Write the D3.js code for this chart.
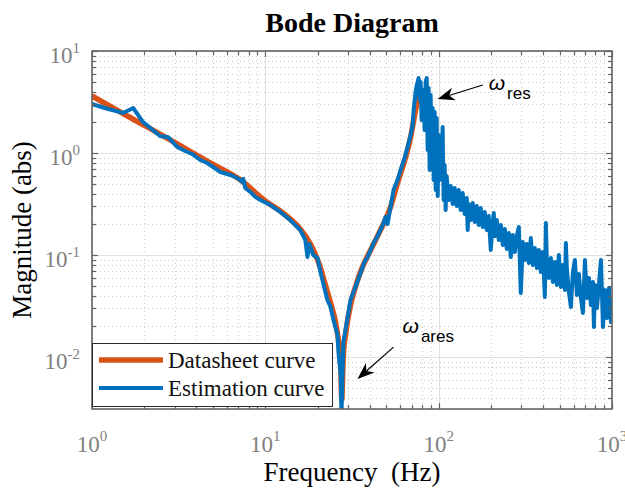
<!DOCTYPE html>
<html>
<head>
<meta charset="utf-8">
<script src="https://cdn.jsdelivr.net/npm/d3@7"></script>
<style>
  body { margin: 0; background: #fff; }
  svg { display: block; }
  .serif { font-family: "Liberation Serif", "Times New Roman", serif; }
  .sans { font-family: "Liberation Sans", Arial, sans-serif; }
</style>
</head>
<body>
<div id="chart"></div>
<script>
const width = 625, height = 490;
const margin = {top: 51, right: 13, bottom: 81, left: 92};

// Datasheet model curve: [Hz, abs]
const datasheet = [
  [1.00,3.62],[1.45,2.53],[2.17,1.73],[3.23,1.18],[4.81,0.80],[7.17,0.546],[10.0,0.338],
  [12.2,0.27],[13.9,0.226],[15.9,0.180],[18.2,0.128],[20.8,0.0746],[22.2,0.0508],[23.8,0.0338],
  [25.4,0.0220],[26.4,0.0147],[27.2,0.0090],[27.6,0.0038],[27.9,0.0060],[28.2,0.0106],[29.0,0.0164],
  [31.0,0.0323],[33.1,0.0486],[35.4,0.0681],[40.5,0.112],[46.2,0.176],[52.8,0.296],[57.9,0.508],
  [65.0,0.955],[68.9,1.43],[73.6,2.64],[77.6,3.8]
];

// Measured (estimation) curve: [Hz, abs]
const estimation = [
  [1.00,3.02],[1.24,2.70],[1.51,2.47],[1.73,2.76],[1.97,2.01],[2.17,1.76],[2.47,1.47],[2.75,1.43],
  [3.10,1.145],[3.45,1.046],[3.78,0.978],[4.21,0.854],[4.62,0.798],[5.00,0.729],[5.50,0.651],
  [6.28,0.609],[6.89,0.569],[7.36,0.520],[7.46,0.556],[7.66,0.454],[8.19,0.415],[8.75,0.371],
  [9.35,0.346],[10.7,0.309],[12.2,0.264],[13.9,0.220],[15.9,0.176],[17.0,0.140],[17.5,0.0955],
  [17.96,0.128],[18.9,0.100],[20.0,0.0935],[20.8,0.0681],[22.2,0.0434],[22.8,0.0362],[23.8,0.0309],
  [24.7,0.0231],[26.1,0.0164],[26.4,0.0112],[27.2,0.00667],[27.5,0.0027],[27.9,0.00746],[28.2,0.0140],
  [29.0,0.0184],[31.0,0.0362],[33.1,0.0486],[35.4,0.0667],[37.3,0.0853],[38.9,0.0955],[40.5,0.112],
  [42.1,0.131],[44.4,0.153],[46.2,0.176],[48.1,0.206],[49.4,0.236],[50.7,0.201],[52.8,0.296],
  [54.9,0.434],[57.9,0.544],[60.3,0.682],[63.6,0.893],[66.2,1.145],[68.9,1.50],[70.8,1.88],
  [71.7,2.64],[73.6,3.96],[74.6,4.54],[76.6,5.43],[77.6,3.31],[78.7,4.97],[79.7,2.11],[80.8,4.15],
  [81.9,3.31],[83.0,1.68],[84.1,4.97],[85.3,5.43],[86.4,1.07],[87.5,4.34],[88.7,0.682],[89.9,3.70],
  [91.1,0.762],[92.3,2.76],[93.6,0.544],[94.8,2.52],[96.1,0.434],[97.4,2.20],[98.7,0.379],[100,1.50],
  [101.3,0.544],[102.7,1.07],[104.0,0.609],[105.4,1.80],[106.8,0.346],[108.3,0.762],[109.7,0.276],
  [111.2,0.595],[114.2,0.346],[117.3,0.475],[120.5,0.316],[123.7,0.454],[127.1,0.302],[130.5,0.434],
  [134.0,0.276],[137.6,0.405],[141.3,0.252],[145.2,0.362],[147.1,0.176],[149.1,0.316],[153.1,0.220],
  [157.2,0.323],[161.5,0.211],[165.9,0.302],[170.3,0.197],[174.9,0.289],[179.6,0.188],[184.5,0.264],
  [189.4,0.176],[194.5,0.241],[199.8,0.112],[205.2,0.211],[208.0,0.258],[210.7,0.153],[216.4,0.220],
  [222.3,0.140],[228.3,0.197],[234.4,0.125],[240.7,0.180],[247.2,0.1145],[253.9,0.164],[260.7,0.0955],
  [267.7,0.157],[274.9,0.107],[282.3,0.153],[290.0,0.188],[297.7,0.0424],[305.8,0.134],[314.0,0.0893],
  [322.5,0.128],[331.2,0.0835],[340.1,0.147],[349.3,0.0798],[358.7,0.117],[368.4,0.0746],[378.3,0.112],
  [388.5,0.0681],[399.0,0.107],[409.8,0.0388],[415.3,0.206],[421.0,0.0853],[432.3,0.0595],[444.0,0.0935],
  [456.0,0.0544],[468.2,0.0853],[480.9,0.0508],[493.8,0.100],[507.2,0.0486],[521.0,0.0798],[535.0,0.0454],
  [541.9,0.131],[549.5,0.0713],[564.2,0.0434],[579.2,0.0309],[594.8,0.0681],[610.9,0.0893],[627.4,0.0405],
  [644.3,0.0651],[661.7,0.0379],[679.5,0.0270],[697.9,0.0893],[716.7,0.0379],[736.0,0.0595],[755.9,0.0323],
  [776.3,0.0544],[786.7,0.0197],[797.3,0.0508],[818.9,0.0302],[841.0,0.0520],[863.6,0.0893],[886.9,0.0197],
  [910.9,0.0454],[935.4,0.0241],[960.7,0.0475],[986.6,0.0220],[1000,0.0379]
];

const xTickExp = [0, 1, 2, 3];
const yTickExp = [1, 0, -1, -2];
const legendNames = ["Datasheet curve", "Estimation curve"];
const seriesColors = ["#D95319", "#0072BD"];

// annotations: subscript text, label anchor, arrow tail, arrow tip (data units)
const annotations = [
  {sub: "res",  text: [194.5, 4.15],  tail: [179.6, 4.64],  tip: [98.7, 3.38]},
  {sub: "ares", text: [61.9, 0.0172], tail: [54.9, 0.0125], tip: [34.0, 0.00608]}
];

const svg = d3.select("#chart").append("svg")
  .attr("width", width).attr("height", height);

const x = d3.scaleLog().domain([1, 1000]).range([margin.left, width - margin.right]);
const y = d3.scaleLog().domain([0.00309, 10]).range([height - margin.bottom, margin.top]);

const x0 = margin.left, x1 = width - margin.right;
const y0 = margin.top, y1 = height - margin.bottom;

const xMinor = [];
for (let e = 0; e < 3; e++) for (let k = 2; k <= 9; k++) xMinor.push(k * Math.pow(10, e));
const yMinor = [];
for (let e = -3; e < 1; e++) for (let k = 2; k <= 9; k++) {
  const v = k * Math.pow(10, e);
  if (v > y.domain()[0]) yMinor.push(v);
}
const xMajor = xTickExp.map(e => Math.pow(10, e));
const yMajor = yTickExp.map(e => Math.pow(10, e));

const crisp = v => Math.round(v) + 0.5;

// grid
const grid = svg.append("g");
grid.selectAll("line.xmin").data(xMinor).join("line")
  .attr("x1", d => crisp(x(d))).attr("x2", d => crisp(x(d)))
  .attr("y1", y0).attr("y2", y1)
  .attr("stroke", "#cdcdcd").attr("stroke-dasharray", "1,3");
grid.selectAll("line.ymin").data(yMinor).join("line")
  .attr("y1", d => crisp(y(d))).attr("y2", d => crisp(y(d)))
  .attr("x1", x0).attr("x2", x1)
  .attr("stroke", "#cdcdcd").attr("stroke-dasharray", "1,3");
grid.selectAll("line.xmaj").data(xMajor).join("line")
  .attr("x1", d => crisp(x(d))).attr("x2", d => crisp(x(d)))
  .attr("y1", y0).attr("y2", y1)
  .attr("stroke", "#e1e1e1");
grid.selectAll("line.ymaj").data(yMajor).join("line")
  .attr("y1", d => crisp(y(d))).attr("y2", d => crisp(y(d)))
  .attr("x1", x0).attr("x2", x1)
  .attr("stroke", "#e1e1e1");

// curves
svg.append("clipPath").attr("id", "plotclip")
  .append("rect").attr("x", x0).attr("y", y0).attr("width", x1 - x0).attr("height", y1 - y0);

const plot = svg.append("g").attr("clip-path", "url(#plotclip)");

plot.append("path")
  .datum(datasheet)
  .attr("d", d3.line().x(d => x(d[0])).y(d => y(d[1])).curve(d3.curveMonotoneX))
  .attr("fill", "none")
  .attr("stroke", seriesColors[0])
  .attr("stroke-width", 5.5)
  .attr("stroke-linejoin", "round");

plot.append("path")
  .datum(estimation)
  .attr("d", d3.line().x(d => x(d[0])).y(d => y(d[1])))
  .attr("fill", "none")
  .attr("stroke", seriesColors[1])
  .attr("stroke-width", 4)
  .attr("stroke-linejoin", "round");

// axes box + inward ticks on all sides
const axisColor = "#636363";
const axes = svg.append("g").attr("stroke", axisColor).attr("stroke-width", 1.2);
const tickLines = (vals, len, horiz) => {
  vals.forEach(v => {
    if (horiz) {
      const px = crisp(x(v));
      axes.append("line").attr("x1", px).attr("x2", px).attr("y1", y1).attr("y2", y1 - len);
      axes.append("line").attr("x1", px).attr("x2", px).attr("y1", y0).attr("y2", y0 + len);
    } else {
      const py = crisp(y(v));
      axes.append("line").attr("y1", py).attr("y2", py).attr("x1", x0).attr("x2", x0 + len);
      axes.append("line").attr("y1", py).attr("y2", py).attr("x1", x1).attr("x2", x1 - len);
    }
  });
};
tickLines(xMinor, 4, true);
tickLines(xMajor, 6, true);
tickLines(yMinor, 4, false);
tickLines(yMajor, 6, false);

axes.append("rect")
  .attr("x", x0).attr("y", y0).attr("width", x1 - x0).attr("height", y1 - y0)
  .attr("fill", "none").attr("stroke-width", 1.6);

// tick labels
svg.append("g").selectAll("text").data(xTickExp).join("text")
  .attr("class", "serif")
  .attr("x", d => x(Math.pow(10, d)))
  .attr("y", y1 + 43)
  .attr("text-anchor", "middle")
  .attr("fill", "#808080")
  .each(function(d) {
    const t = d3.select(this);
    t.append("tspan").attr("font-size", 23).text("10");
    t.append("tspan").attr("font-size", 15).attr("dy", -11).text(d);
  });

svg.append("g").selectAll("text").data(yTickExp).join("text")
  .attr("class", "serif")
  .attr("x", 80)
  .attr("y", d => y(Math.pow(10, d)) + 12)
  .attr("text-anchor", "end")
  .attr("fill", "#808080")
  .each(function(d) {
    const t = d3.select(this);
    t.append("tspan").attr("font-size", 23).text("10");
    t.append("tspan").attr("font-size", 15).attr("dy", -10).text(d);
  });

// titles
svg.append("text").attr("class", "serif")
  .attr("x", (x0 + x1) / 2).attr("y", 32)
  .attr("text-anchor", "middle")
  .attr("font-size", 28).attr("font-weight", "bold")
  .attr("fill", "#000")
  .text("Bode Diagram");

svg.append("text").attr("class", "serif")
  .attr("x", (x0 + x1) / 2).attr("y", 481)
  .attr("text-anchor", "middle")
  .attr("font-size", 27)
  .style("white-space", "pre")
  .attr("fill", "#000")
  .text("Frequency  (Hz)");

svg.append("text").attr("class", "serif")
  .attr("transform", `translate(31, ${(y0 + y1) / 2}) rotate(-90)`)
  .attr("text-anchor", "middle")
  .attr("font-size", 27)
  .attr("fill", "#000")
  .text("Magnitude (abs)");

// legend
const legend = svg.append("g");
legend.append("rect")
  .attr("x", x0 + 0.5).attr("y", 343.5).attr("width", 240).attr("height", 63)
  .attr("fill", "#fff").attr("stroke", "#2b2b2b").attr("stroke-width", 1);

const legendRow = legend.selectAll("g.row").data(legendNames).join("g")
  .attr("class", "row")
  .attr("transform", (d, i) => `translate(${x0 + 7}, ${360 + i * 28})`);

legendRow.append("line")
  .attr("x1", 0).attr("x2", 64)
  .attr("stroke", (d, i) => seriesColors[i])
  .attr("stroke-width", (d, i) => i === 0 ? 5.5 : 4);

legendRow.append("text").attr("class", "serif")
  .attr("x", 69).attr("y", 8)
  .attr("font-size", 23)
  .attr("fill", "#111")
  .text(d => d);

// annotations
const ann = svg.append("g");
annotations.forEach(a => {
  const tail = [x(a.tail[0]), y(a.tail[1])];
  const tip = [x(a.tip[0]), y(a.tip[1])];
  const dx = tip[0] - tail[0], dy = tip[1] - tail[1];
  const L = Math.hypot(dx, dy);
  const ux = dx / L, uy = dy / L, px = -uy, py = ux;
  const hl = 17, hw = 6.5, notch = 12;
  ann.append("line")
    .attr("x1", tail[0]).attr("y1", tail[1])
    .attr("x2", tip[0] - ux * notch).attr("y2", tip[1] - uy * notch)
    .attr("stroke", "#000").attr("stroke-width", 1.2);
  const pts = [
    tip,
    [tip[0] - ux * hl + px * hw, tip[1] - uy * hl + py * hw],
    [tip[0] - ux * notch, tip[1] - uy * notch],
    [tip[0] - ux * hl - px * hw, tip[1] - uy * hl - py * hw]
  ];
  ann.append("polygon").attr("points", pts.map(p => p.join(",")).join(" ")).attr("fill", "#000");

  const t = ann.append("text").attr("class", "sans")
    .attr("x", x(a.text[0])).attr("y", y(a.text[1]))
    .attr("fill", "#000");
  t.append("tspan").attr("font-size", 21).attr("font-style", "italic").text("\u03C9");
  t.append("tspan").attr("font-size", 17).attr("dx", 2).attr("dy", 9).text(a.sub);
});
</script>
</body>
</html>
